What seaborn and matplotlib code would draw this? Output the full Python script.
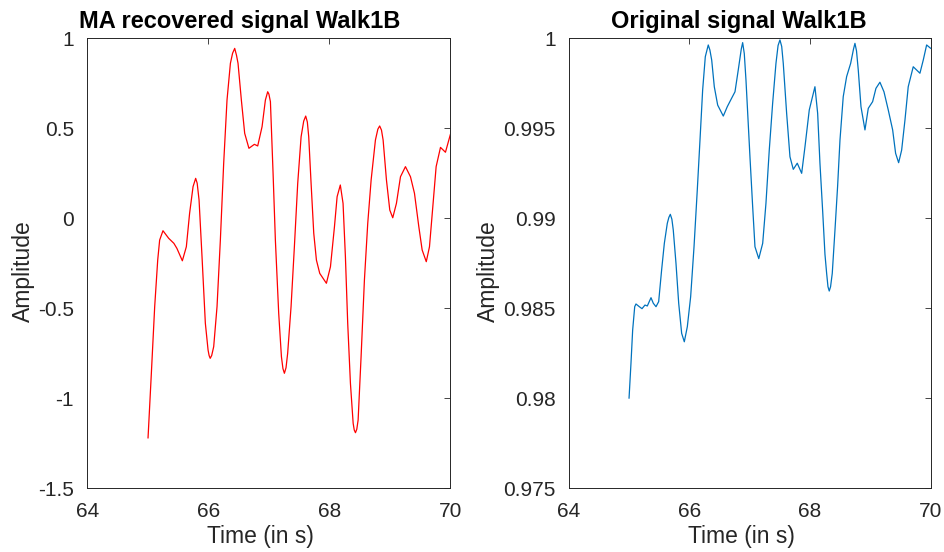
import matplotlib
matplotlib.use("Agg")
import matplotlib.pyplot as plt
import seaborn as sns
import pandas as pd

# Time stamps (s) and amplitudes of the motion-artifact recovered signal
ma_time = [65.003, 65.058, 65.113, 65.163, 65.195, 65.25, 65.344, 65.43, 65.48, 65.57,
           65.636, 65.69, 65.747, 65.79, 65.815, 65.846, 65.895, 65.95, 65.995, 66.012,
           66.03, 66.055, 66.088, 66.143, 66.198, 66.253, 66.308, 66.364, 66.40, 66.435,
           66.465, 66.49, 66.545, 66.6, 66.67, 66.76, 66.815, 66.887, 66.942, 66.98,
           67.0, 67.025, 67.069, 67.107, 67.162, 67.207, 67.232, 67.256, 67.283, 67.31,
           67.366, 67.421, 67.476, 67.532, 67.575, 67.608, 67.635, 67.658, 67.697, 67.741,
           67.785, 67.84, 67.95, 68.017, 68.083, 68.127, 68.18, 68.225, 68.264, 68.302,
           68.347, 68.392, 68.41, 68.43, 68.452, 68.474, 68.523, 68.578, 68.633, 68.689,
           68.76, 68.8, 68.83, 68.86, 68.887, 68.942, 68.997, 69.046, 69.107, 69.174,
           69.256, 69.339, 69.405, 69.477, 69.532, 69.6, 69.653, 69.708, 69.763, 69.835,
           69.917, 70.0]
ma_amp = [-1.221, -0.861, -0.491, -0.232, -0.121, -0.069, -0.111, -0.139, -0.167, -0.236,
          -0.158, 0.028, 0.176, 0.222, 0.195, 0.102, -0.213, -0.583, -0.732, -0.762,
          -0.778, -0.762, -0.713, -0.491, -0.121, 0.306, 0.657, 0.861, 0.917, 0.944,
          0.905, 0.861, 0.657, 0.472, 0.389, 0.411, 0.402, 0.509, 0.657, 0.703,
          0.69, 0.648, 0.25, -0.121, -0.528, -0.769, -0.835, -0.861, -0.83, -0.75,
          -0.491, -0.158, 0.194, 0.453, 0.54, 0.568, 0.535, 0.453, 0.194, -0.083,
          -0.232, -0.306, -0.361, -0.269, -0.047, 0.12, 0.185, 0.083, -0.213, -0.583,
          -0.917, -1.139, -1.176, -1.191, -1.172, -1.121, -0.769, -0.343, -0.028, 0.213,
          0.435, 0.495, 0.513, 0.49, 0.435, 0.213, 0.046, 0.003, 0.083, 0.231,
          0.287, 0.231, 0.139, -0.047, -0.176, -0.241, -0.158, 0.064, 0.287, 0.394,
          0.367, 0.468]

# Time stamps (s) and amplitudes of the original signal
orig_time = [65.0, 65.032, 65.06, 65.094, 65.115, 65.17, 65.215, 65.264, 65.303, 65.364,
             65.402, 65.447, 65.491, 65.54, 65.585, 65.634, 65.66, 65.684, 65.71, 65.733,
             65.778, 65.823, 65.872, 65.916, 65.966, 66.021, 66.077, 66.131, 66.176, 66.22,
             66.264, 66.313, 66.34, 66.37, 66.413, 66.469, 66.562, 66.628, 66.7, 66.756,
             66.81, 66.86, 66.883, 66.91, 66.938, 67.004, 67.049, 67.087, 67.15, 67.215,
             67.269, 67.324, 67.38, 67.435, 67.47, 67.501, 67.53, 67.556, 67.612, 67.667,
             67.722, 67.788, 67.861, 67.916, 67.987, 68.081, 68.126, 68.164, 68.209, 68.247,
             68.275, 68.297, 68.318, 68.34, 68.368, 68.413, 68.457, 68.496, 68.55, 68.606,
             68.673, 68.72, 68.744, 68.77, 68.799, 68.844, 68.91, 68.965, 69.037, 69.092,
             69.158, 69.225, 69.296, 69.369, 69.418, 69.468, 69.518, 69.573, 69.627, 69.71,
             69.821, 69.876, 69.932, 70.0]
orig_amp = [0.98, 0.98194, 0.98379, 0.98509, 0.98524, 0.98509, 0.98498, 0.98518, 0.98513, 0.98559,
            0.98528, 0.98509, 0.98537, 0.98713, 0.98861, 0.98972, 0.99005, 0.99022, 0.98995, 0.98935,
            0.9875, 0.98528, 0.98361, 0.98314, 0.98398, 0.98564, 0.98842, 0.99157, 0.99435, 0.99713,
            0.99898, 0.99963, 0.99935, 0.99879, 0.99731, 0.99629, 0.99568, 0.9962, 0.99667, 0.99703,
            0.99824, 0.9994, 0.99976, 0.99915, 0.99768, 0.99342, 0.99064, 0.98842, 0.98776, 0.98861,
            0.99083, 0.99379, 0.99639, 0.99861, 0.9996, 0.99991, 0.99955, 0.99861, 0.99583, 0.99342,
            0.99272, 0.99306, 0.9925, 0.99398, 0.99602, 0.99731, 0.99583, 0.99306, 0.9904, 0.988,
            0.98694, 0.9862, 0.98596, 0.9862, 0.98694, 0.98935, 0.9918, 0.99435, 0.99676, 0.99787,
            0.99861, 0.9994, 0.99972, 0.9993, 0.99824, 0.9962, 0.99491, 0.99611, 0.99648, 0.99722,
            0.99756, 0.99703, 0.99602, 0.99491, 0.99361, 0.99309, 0.99379, 0.99546, 0.99731, 0.99842,
            0.99806, 0.99879, 0.99963, 0.99944]

assert len(ma_time) == len(ma_amp) and len(orig_time) == len(orig_amp)

x_ticks = [64, 66, 68, 70]
x_tick_labels = ["64", "66", "68", "70"]
ma_y_ticks = [-1.5, -1.0, -0.5, 0.0, 0.5, 1.0]
ma_y_tick_labels = ["-1.5", "-1", "-0.5", "0", "0.5", "1"]
orig_y_ticks = [0.975, 0.98, 0.985, 0.99, 0.995, 1.0]
orig_y_tick_labels = ["0.975", "0.98", "0.985", "0.99", "0.995", "1"]

sns.set_style("white")
plt.rcParams["font.family"] = ["Liberation Sans", "DejaVu Sans"]
plt.rcParams["axes.unicode_minus"] = False

fig = plt.figure(figsize=(9.45, 5.52), dpi=100)
ax1 = fig.add_axes([0.0924, 0.1154, 0.3843, 0.8152])
ax2 = fig.add_axes([0.6018, 0.1154, 0.3831, 0.8152])

ma_df = pd.DataFrame({"t": ma_time, "amp": ma_amp})
orig_df = pd.DataFrame({"t": orig_time, "amp": orig_amp})

sns.lineplot(data=ma_df, x="t", y="amp", ax=ax1, color="#ff0000", linewidth=0.9,
             estimator=None, sort=False)
sns.lineplot(data=orig_df, x="t", y="amp", ax=ax2, color="#0072bd", linewidth=0.9,
             estimator=None, sort=False)

text_color = "#262626"
panels = [
    (ax1, (-1.5, 1.0), ma_y_ticks, ma_y_tick_labels, "MA recovered signal Walk1B", 0.42),
    (ax2, (0.975, 1.0), orig_y_ticks, orig_y_tick_labels, "Original signal Walk1B", 0.47),
]
for ax, ylim, yt, ytl, title, tx in panels:
    ax.set_xlim(64, 70)
    ax.set_ylim(*ylim)
    ax.set_xticks(x_ticks)
    ax.set_xticklabels(x_tick_labels)
    ax.set_yticks(yt)
    ax.set_yticklabels(ytl)
    ax.tick_params(direction="in", length=4, width=0.6, top=True, right=True,
                   labelsize=15, colors=text_color)
    ax.tick_params(axis="x", pad=10)
    ax.tick_params(axis="y", pad=9.5)
    for sp in ax.spines.values():
        sp.set_visible(True)
        sp.set_color(text_color)
        sp.set_linewidth(0.7)
    ax.set_xlabel("Time (in s)", fontsize=16.5, color=text_color, labelpad=3)
    ax.set_ylabel("Amplitude", fontsize=16.5, color=text_color, labelpad=2)
    ax.xaxis.label.set_x(0.478)
    ax.yaxis.label.set_y(0.482)
    ax.set_title(title, fontsize=17, fontweight="bold", color="black", x=tx, pad=7.5)

fig.savefig("out.png", dpi=100)
